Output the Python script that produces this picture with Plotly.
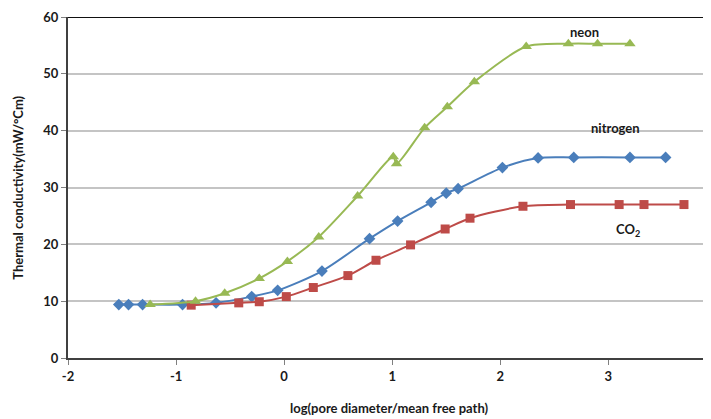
import plotly.graph_objects as go

nitrogen_x = [-1.53, -1.44, -1.31, -0.94, -0.63, -0.30, -0.06, 0.35, 0.79, 1.05, 1.36, 1.50, 1.61, 2.02, 2.35, 2.68, 3.20, 3.53]
nitrogen_y = [9.4, 9.4, 9.4, 9.4, 9.7, 10.8, 11.9, 15.3, 21.0, 24.1, 27.4, 29.0, 29.8, 33.5, 35.2, 35.3, 35.3, 35.3]

neon_x = [-1.24, -0.82, -0.55, -0.23, 0.03, 0.32, 0.68, 1.01, 1.04, 1.30, 1.51, 1.76, 2.24, 2.63, 2.90, 3.20]
neon_y = [9.4, 10.0, 11.4, 14.0, 17.0, 21.3, 28.5, 35.4, 34.2, 40.5, 44.2, 48.6, 54.8, 55.3, 55.3, 55.3]

co2_x = [-0.86, -0.42, -0.23, 0.02, 0.27, 0.59, 0.85, 1.17, 1.49, 1.72, 2.21, 2.65, 3.10, 3.33, 3.70]
co2_y = [9.3, 9.7, 9.9, 10.8, 12.4, 14.5, 17.2, 19.9, 22.7, 24.6, 26.7, 27.0, 27.0, 27.0, 27.0]

labels = ["neon", "nitrogen", "CO<sub>2</sub>"]
label_x = [2.78, 3.07, 3.18]
label_y = [57.4, 40.4, 22.5]

x_ticks = [-2, -1, 0, 1, 2, 3, 4]
x_ticktext = ["-2", "-1", "0", "1", "2", "3", "4"]
y_ticks = [0, 10, 20, 30, 40, 50, 60]

FONT = "Lato"
TXT = "#1a1a1a"

fig = go.Figure()
fig.add_trace(go.Scatter(x=nitrogen_x, y=nitrogen_y, mode="lines+markers", name="nitrogen",
                         line=dict(color="#4A7EBB", width=2, shape="spline", smoothing=0.8),
                         marker=dict(symbol="diamond", size=9, color="#4A7EBB")))
fig.add_trace(go.Scatter(x=co2_x, y=co2_y, mode="lines+markers", name="CO2",
                         line=dict(color="#BE4B48", width=2, shape="spline", smoothing=0.8),
                         marker=dict(symbol="square", size=9, color="#BE4B48")))
fig.add_trace(go.Scatter(x=neon_x, y=neon_y, mode="lines+markers", name="neon",
                         line=dict(color="#98B954", width=2, shape="spline", smoothing=0.8),
                         marker=dict(symbol="triangle-up", size=10, color="#98B954")))

for t, lx, ly in zip(labels, label_x, label_y):
    fig.add_annotation(x=lx, y=ly, text=t, showarrow=False,
                       font=dict(family=FONT, size=13, color=TXT, weight="bold"))

fig.add_annotation(xref="paper", yref="paper", x=-0.079, y=0.5, text="Thermal conductivity(mW/°Cm)",
                   textangle=-90, showarrow=False, xanchor="center", yanchor="middle",
                   font=dict(family=FONT, size=13, color=TXT, weight="bold"))
fig.add_annotation(xref="paper", yref="paper", x=0.5, y=-0.147, text="log(pore diameter/mean free path)",
                   showarrow=False, xanchor="center", yanchor="middle",
                   font=dict(family=FONT, size=13, color=TXT, weight="bold"))

fig.add_shape(type="line", xref="paper", yref="y", x0=0, x1=1, y0=60, y1=60,
              line=dict(color="#111111", width=2))

fig.update_layout(
    width=711, height=419,
    margin=dict(l=60, r=8, t=9, b=69),
    paper_bgcolor="white", plot_bgcolor="white",
    showlegend=False,
    font=dict(family=FONT, size=13, color=TXT),
    xaxis=dict(range=[-2, 3.95], tickvals=x_ticks, ticktext=x_ticktext, showgrid=False, zeroline=False,
               showline=True, linecolor="#404040", linewidth=2, automargin=False,
               ticks="outside", ticklen=5, tickcolor="#808080",
               tickfont=dict(family=FONT, size=13, weight="bold", color=TXT)),
    yaxis=dict(range=[0, 60], tickvals=y_ticks, showgrid=True, gridcolor="#C4C4C4", gridwidth=1.5,
               zeroline=False, showline=True, linecolor="#404040", linewidth=2, automargin=False,
               ticks="outside", ticklen=5, tickcolor="#808080",
               tickfont=dict(family=FONT, size=13, weight="bold", color=TXT)),
)

fig.write_html("out.html")
